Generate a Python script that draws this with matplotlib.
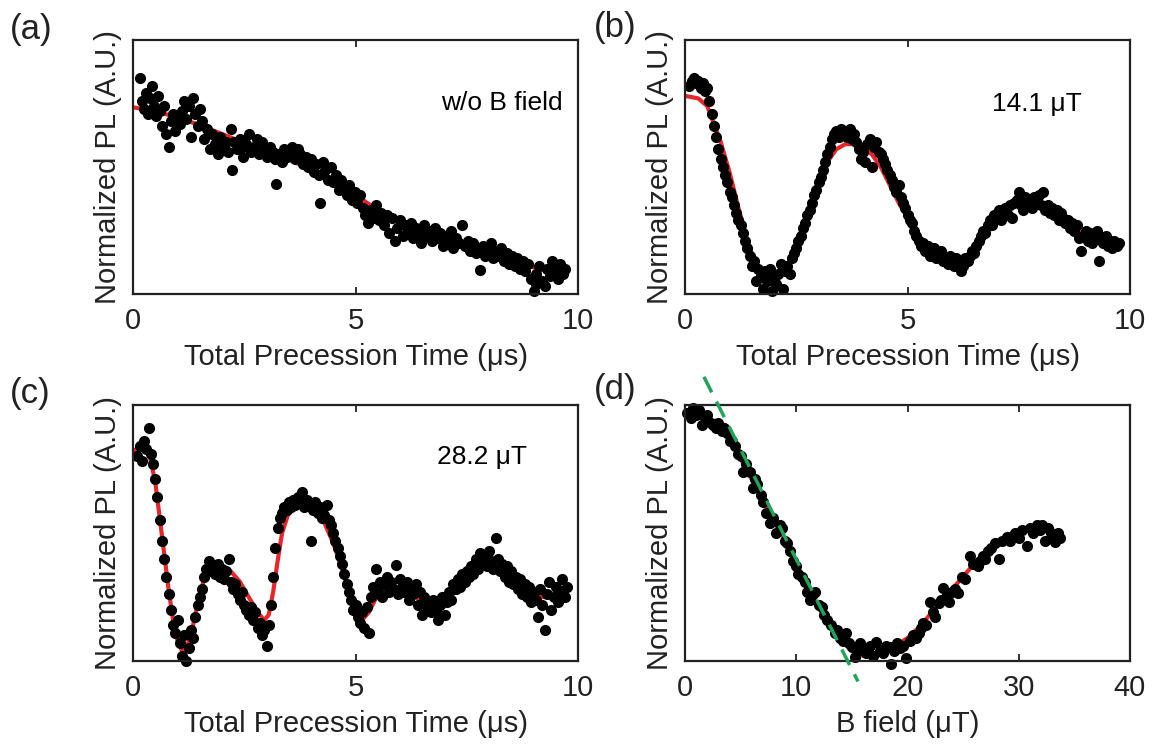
import numpy as np
import matplotlib.pyplot as plt

plt.rcParams['font.family'] = ['Liberation Sans', 'DejaVu Sans']

# (a) no field: precession time (us) and normalized PL
a_t = [0.16, 0.20, 0.25, 0.30, 0.34, 0.38, 0.43, 0.47, 0.52, 0.56,
       0.61, 0.66, 0.70, 0.75, 0.80, 0.85, 0.90, 0.95, 1.00, 1.05,
       1.10, 1.15, 1.20, 1.25, 1.30, 1.35, 1.40, 1.45, 1.50, 1.55,
       1.60, 1.66, 1.72, 1.78, 1.84, 1.90, 1.96, 2.02, 2.08, 2.14,
       2.20, 2.22, 2.28, 2.34, 2.40, 2.46, 2.48, 2.54, 2.60, 2.66,
       2.72, 2.78, 2.84, 2.90, 2.96, 3.02, 3.08, 3.14, 3.20, 3.22,
       3.28, 3.34, 3.40, 3.46, 3.52, 3.58, 3.64, 3.70, 3.76, 3.82,
       3.88, 3.94, 4.00, 4.06, 4.12, 4.18, 4.20, 4.26, 4.32, 4.38,
       4.44, 4.50, 4.56, 4.62, 4.68, 4.74, 4.80, 4.86, 4.92, 4.98,
       5.04, 5.10, 5.16, 5.22, 5.29, 5.34, 5.40, 5.46, 5.52, 5.58,
       5.64, 5.70, 5.76, 5.82, 5.88, 5.94, 6.00, 6.06, 6.12, 6.18,
       6.24, 6.30, 6.36, 6.42, 6.48, 6.54, 6.60, 6.66, 6.72, 6.78,
       6.84, 6.90, 6.96, 7.02, 7.08, 7.14, 7.20, 7.26, 7.32, 7.40,
       7.46, 7.52, 7.58, 7.64, 7.70, 7.76, 7.80, 7.86, 7.92, 7.98,
       8.04, 8.10, 8.16, 8.22, 8.28, 8.34, 8.40, 8.46, 8.52, 8.58,
       8.64, 8.70, 8.76, 8.82, 8.88, 8.94, 9.00, 9.06, 9.12, 9.18,
       9.25, 9.30, 9.36, 9.42, 9.48, 9.54, 9.60, 9.66, 9.70, 9.05]
a_pl = [0.85, 0.76, 0.73, 0.79, 0.71, 0.77, 0.82, 0.74, 0.70, 0.78,
        0.72, 0.66, 0.74, 0.63, 0.58, 0.68, 0.71, 0.64, 0.70, 0.67,
        0.72, 0.76, 0.69, 0.74, 0.62, 0.77, 0.71, 0.66, 0.73, 0.68,
        0.61, 0.65, 0.57, 0.63, 0.59, 0.55, 0.62, 0.58, 0.60, 0.56,
        0.65, 0.49, 0.60, 0.57, 0.61, 0.58, 0.54, 0.59, 0.63, 0.56,
        0.58, 0.61, 0.55, 0.60, 0.57, 0.54, 0.58, 0.56, 0.53, 0.435,
        0.55, 0.52, 0.57, 0.54, 0.56, 0.58, 0.53, 0.57, 0.55, 0.51,
        0.54, 0.50, 0.53, 0.48, 0.51, 0.47, 0.36, 0.52, 0.49, 0.45,
        0.50, 0.44, 0.47, 0.41, 0.45, 0.42, 0.39, 0.43, 0.37, 0.40,
        0.36, 0.39, 0.34, 0.31, 0.28, 0.33, 0.30, 0.35, 0.29, 0.32,
        0.27, 0.31, 0.24, 0.30, 0.21, 0.26, 0.29, 0.23, 0.27, 0.25,
        0.28, 0.22, 0.26, 0.24, 0.20, 0.27, 0.23, 0.25, 0.21, 0.26,
        0.22, 0.24, 0.19, 0.23, 0.21, 0.25, 0.18, 0.22, 0.20, 0.27,
        0.19, 0.21, 0.17, 0.20, 0.16, 0.18, 0.095, 0.19, 0.15, 0.17,
        0.20, 0.14, 0.17, 0.15, 0.18, 0.13, 0.16, 0.12, 0.15, 0.11,
        0.14, 0.10, 0.13, 0.09, 0.12, 0.06, 0.01, 0.08, 0.11, 0.05,
        0.03, 0.10, 0.07, 0.13, 0.09, 0.06, 0.12, 0.08, 0.10, 0.04]
a_fit_t = [0.0, 0.5, 1.0, 1.5, 2.0, 2.5, 3.0, 3.5, 4.0, 4.5, 5.0,
           5.5, 6.0, 6.5, 7.0, 7.5, 8.0, 8.5, 9.0, 9.5, 9.7]
a_fit_pl = [0.735, 0.72, 0.695, 0.665, 0.63, 0.595, 0.565, 0.53, 0.49, 0.44, 0.39,
            0.33, 0.285, 0.255, 0.225, 0.19, 0.165, 0.135, 0.105, 0.08, 0.07]

# sampling times shared by (b) and (c)
t_osc = [0.10, 0.15, 0.20, 0.25, 0.30, 0.35, 0.40, 0.45, 0.50, 0.55,
         0.60, 0.65, 0.70, 0.75, 0.80, 0.85, 0.90, 0.95, 1.00, 1.05,
         1.10, 1.15, 1.20, 1.25, 1.30, 1.35, 1.40, 1.45, 1.50, 1.55,
         1.60, 1.65, 1.70, 1.75, 1.80, 1.85, 1.90, 1.95, 2.00, 2.05,
         2.10, 2.15, 2.20, 2.25, 2.30, 2.35, 2.40, 2.45, 2.50, 2.55,
         2.60, 2.65, 2.70, 2.75, 2.80, 2.85, 2.90, 2.95, 3.00, 3.05,
         3.10, 3.15, 3.20, 3.25, 3.30, 3.35, 3.40, 3.45, 3.50, 3.55,
         3.60, 3.65, 3.70, 3.75, 3.80, 3.85, 3.90, 3.95, 4.00, 4.05,
         4.10, 4.15, 4.20, 4.25, 4.30, 4.35, 4.40, 4.45, 4.50, 4.55,
         4.60, 4.65, 4.70, 4.75, 4.80, 4.85, 4.90, 4.95, 5.00, 5.05,
         5.10, 5.15, 5.20, 5.25, 5.30, 5.35, 5.40, 5.45, 5.50, 5.55,
         5.60, 5.65, 5.70, 5.75, 5.80, 5.85, 5.90, 5.95, 6.00, 6.05,
         6.10, 6.15, 6.20, 6.25, 6.30, 6.35, 6.40, 6.45, 6.50, 6.55,
         6.60, 6.65, 6.70, 6.75, 6.80, 6.85, 6.90, 6.95, 7.00, 7.05,
         7.10, 7.15, 7.20, 7.25, 7.30, 7.35, 7.40, 7.45, 7.50, 7.55,
         7.60, 7.65, 7.70, 7.75, 7.80, 7.85, 7.90, 7.95, 8.00, 8.05,
         8.10, 8.15, 8.20, 8.25, 8.30, 8.35, 8.40, 8.45, 8.50, 8.55,
         8.60, 8.65, 8.70, 8.75, 8.80, 8.85, 8.90, 8.95, 9.00, 9.05,
         9.10, 9.15, 9.20, 9.25, 9.30, 9.35, 9.40, 9.45, 9.50, 9.55,
         9.60, 9.65, 9.70, 9.75]

# (b) 14.1 uT
b_pl = [0.82, 0.84, 0.85, 0.83, 0.84, 0.81, 0.83, 0.80, 0.81, 0.76,
        0.71, 0.66, 0.62, 0.57, 0.53, 0.50, 0.47, 0.44, 0.40, 0.38,
        0.35, 0.32, 0.29, 0.27, 0.24, 0.21, 0.18, 0.15, 0.11, 0.13,
        0.05, 0.10, 0.07, 0.02, 0.09, 0.05, 0.10, 0.01, 0.07, 0.04,
        0.08, 0.12, 0.02, 0.09, 0.11, 0.08, 0.14, 0.16, 0.18, 0.21,
        0.23, 0.26, 0.28, 0.31, 0.33, 0.36, 0.39, 0.41, 0.44, 0.46,
        0.49, 0.52, 0.55, 0.58, 0.61, 0.63, 0.64, 0.62, 0.65, 0.63,
        0.64, 0.62, 0.65, 0.61, 0.63, 0.60, 0.57, 0.53, 0.56, 0.52,
        0.59, 0.61, 0.50, 0.58, 0.60, 0.56, 0.55, 0.53, 0.51, 0.49,
        0.47, 0.45, 0.42, 0.40, 0.43, 0.38, 0.36, 0.34, 0.31, 0.29,
        0.28, 0.25, 0.23, 0.21, 0.19, 0.20, 0.17, 0.19, 0.15, 0.16,
        0.18, 0.14, 0.15, 0.17, 0.13, 0.14, 0.12, 0.15, 0.13, 0.11,
        0.14, 0.12, 0.09, 0.11, 0.14, 0.13, 0.15, 0.17, 0.16, 0.19,
        0.21, 0.23, 0.25, 0.24, 0.27, 0.29, 0.27, 0.31, 0.30, 0.33,
        0.29, 0.32, 0.34, 0.31, 0.35, 0.30, 0.36, 0.37, 0.40, 0.35,
        0.33, 0.38, 0.35, 0.37, 0.34, 0.38, 0.36, 0.39, 0.35, 0.40,
        0.33, 0.35, 0.32, 0.34, 0.31, 0.33, 0.29, 0.32, 0.30, 0.28,
        0.29, 0.26, 0.28, 0.25, 0.27, 0.22, 0.17, 0.23, 0.25, 0.21,
        0.24, 0.20, 0.22, 0.25, 0.13, 0.22, 0.20, 0.23, 0.19, 0.21,
        0.18, 0.21, 0.19, 0.20]
b_fit_t = [0.0, 0.3, 0.5, 0.8, 1.0, 1.2, 1.4, 1.6, 1.8, 2.0, 2.2, 2.4, 2.6, 2.8,
           3.0, 3.2, 3.4, 3.6, 3.8, 4.0, 4.2, 4.4, 4.6, 4.8, 5.0, 5.2, 5.4,
           5.6, 5.8, 6.0, 6.2, 6.4, 6.6, 6.8, 7.0, 7.2, 7.4, 7.6, 7.8, 8.0,
           8.2, 8.4, 8.6, 8.8, 9.0, 9.2, 9.4, 9.7]
b_fit_pl = [0.78, 0.77, 0.74, 0.60, 0.48, 0.34, 0.21, 0.11, 0.06, 0.05, 0.08, 0.15, 0.24, 0.34,
            0.44, 0.52, 0.57, 0.59, 0.59, 0.575, 0.55, 0.50, 0.43, 0.36, 0.30, 0.24, 0.20,
            0.16, 0.14, 0.13, 0.13, 0.15, 0.19, 0.24, 0.29, 0.33, 0.35, 0.37, 0.37, 0.36,
            0.34, 0.31, 0.28, 0.25, 0.23, 0.21, 0.20, 0.19]

# (c) 28.2 uT
c_pl = [0.80, 0.84, 0.78, 0.86, 0.83, 0.91, 0.81, 0.77, 0.71, 0.64,
        0.55, 0.47, 0.40, 0.33, 0.26, 0.20, 0.14, 0.11, 0.16, 0.07,
        0.02, 0.10, 0.00, 0.05, 0.12, 0.09, 0.17, 0.22, 0.25, 0.28,
        0.33, 0.36, 0.39, 0.35, 0.37, 0.34, 0.38, 0.33, 0.36, 0.32,
        0.35, 0.40, 0.31, 0.28, 0.30, 0.26, 0.24, 0.27, 0.22, 0.20,
        0.18, 0.21, 0.16, 0.19, 0.13, 0.15, 0.10, 0.12, 0.06, 0.14,
        0.22, 0.33, 0.44, 0.52, 0.56, 0.58, 0.60, 0.59, 0.62, 0.60,
        0.63, 0.61, 0.64, 0.62, 0.66, 0.60, 0.63, 0.61, 0.47, 0.59,
        0.62, 0.58, 0.60, 0.56, 0.57, 0.61, 0.55, 0.53, 0.50, 0.47,
        0.44, 0.41, 0.38, 0.34, 0.30, 0.27, 0.24, 0.20, 0.22, 0.17,
        0.15, 0.19, 0.13, 0.21, 0.11, 0.25, 0.29, 0.36, 0.27, 0.31,
        0.25, 0.30, 0.33, 0.27, 0.31, 0.28, 0.375, 0.26, 0.32, 0.29,
        0.27, 0.31, 0.24, 0.29, 0.26, 0.30, 0.22, 0.27, 0.18, 0.25,
        0.21, 0.23, 0.19, 0.24, 0.20, 0.16, 0.22, 0.25, 0.18, 0.23,
        0.27, 0.24, 0.30, 0.28, 0.32, 0.29, 0.34, 0.31, 0.35, 0.33,
        0.37, 0.34, 0.40, 0.36, 0.42, 0.38, 0.41, 0.37, 0.43, 0.39,
        0.36, 0.48, 0.40, 0.35, 0.38, 0.33, 0.37, 0.31, 0.35, 0.30,
        0.33, 0.28, 0.32, 0.26, 0.30, 0.25, 0.29, 0.23, 0.27, 0.24,
        0.17, 0.28, 0.22, 0.12, 0.26, 0.31, 0.20, 0.25, 0.29, 0.23,
        0.27, 0.32, 0.25, 0.29]
c_fit_t = [0.0, 0.2, 0.35, 0.5, 0.6, 0.7, 0.8, 0.9, 1.0, 1.1, 1.2, 1.3, 1.4, 1.5,
           1.6, 1.7, 1.85, 2.0, 2.2, 2.4, 2.6, 2.8, 2.95, 3.05, 3.15, 3.25, 3.35,
           3.5, 3.7, 3.9, 4.1, 4.3, 4.5, 4.7, 4.85, 5.0, 5.15, 5.3, 5.5, 5.7,
           5.9, 6.1, 6.3, 6.5, 6.7, 6.9, 7.1, 7.3, 7.5, 7.7, 7.9, 8.1, 8.3,
           8.5, 8.7, 8.9, 9.1, 9.3, 9.5, 9.7]
c_fit_pl = [0.82, 0.84, 0.82, 0.70, 0.56, 0.42, 0.28, 0.16, 0.08, 0.04, 0.05, 0.10, 0.18, 0.26,
            0.32, 0.36, 0.38, 0.37, 0.35, 0.31, 0.25, 0.19, 0.16, 0.18, 0.27, 0.39, 0.50,
            0.58, 0.62, 0.62, 0.59, 0.54, 0.46, 0.36, 0.27, 0.19, 0.16, 0.19, 0.26, 0.29,
            0.29, 0.28, 0.26, 0.23, 0.21, 0.21, 0.24, 0.29, 0.34, 0.37, 0.39, 0.38, 0.36,
            0.33, 0.30, 0.27, 0.25, 0.25, 0.26, 0.27]

# (d) PL vs B field (uT)
d_b = [0.2, 0.5, 0.7, 1.0, 1.3, 1.5, 1.8, 2.0, 2.3, 2.5,
       2.8, 3.0, 3.3, 3.5, 3.75, 4.0, 4.2, 4.5, 4.8, 5.0,
       5.2, 5.5, 5.8, 6.1, 6.3, 6.5, 6.8, 7.0, 7.3, 7.6,
       7.9, 8.2, 8.5, 8.7, 9.0, 9.15, 9.4, 9.7, 10.0, 10.2,
       10.5, 10.8, 11.0, 11.2, 11.5, 11.7, 12.0, 12.3, 12.5, 12.8,
       13.1, 13.5, 13.7, 13.9, 14.2, 14.5, 14.7, 15.0, 15.3, 15.5,
       15.7, 16.0, 16.3, 16.6, 16.9, 17.2, 17.5, 17.8, 18.1, 18.4,
       18.5, 18.8, 19.1, 19.3, 19.6, 19.9, 20.2, 20.5, 20.8, 21.0,
       21.2, 21.4, 21.7, 22.0, 22.3, 22.5, 22.8, 23.0, 23.2, 23.5,
       23.7, 24.0, 24.3, 24.5, 24.9, 25.2, 25.6, 25.9, 26.3, 26.5,
       26.8, 27.0, 27.2, 27.5, 27.9, 28.2, 28.5, 28.9, 29.2, 29.5,
       29.7, 30.0, 30.3, 30.7, 31.0, 31.3, 31.6, 31.9, 32.1, 32.4,
       32.6, 32.9, 33.1, 33.3, 33.5, 33.7]
d_pl = [0.97, 0.95, 0.99, 0.96, 0.98, 0.92, 0.95, 0.96, 0.93, 0.92,
        0.91, 0.93, 0.90, 0.91, 0.89, 0.86, 0.86, 0.84, 0.81, 0.80,
        0.74, 0.77, 0.74, 0.675, 0.71, 0.69, 0.65, 0.62, 0.58, 0.54,
        0.56, 0.50, 0.53, 0.52, 0.47, 0.46, 0.43, 0.39, 0.37, 0.34,
        0.33, 0.31, 0.27, 0.24, 0.26, 0.27, 0.22, 0.21, 0.18, 0.16,
        0.14, 0.11, 0.12, 0.09, 0.08, 0.11, 0.07, 0.055, 0.016, 0.04,
        0.07, 0.05, 0.03, 0.06, 0.02, 0.074, 0.04, 0.03, 0.06, 0.055,
        -0.01, 0.04, 0.07, 0.05, 0.06, 0.01, 0.08, 0.10, 0.09, 0.11,
        0.13, 0.15, 0.14, 0.23, 0.19, 0.17, 0.225, 0.24, 0.285, 0.25,
        0.23, 0.27, 0.28, 0.265, 0.33, 0.32, 0.41, 0.38, 0.37, 0.39,
        0.41, 0.40, 0.43, 0.44, 0.46, 0.40, 0.47, 0.485, 0.47, 0.49,
        0.50, 0.48, 0.51, 0.45, 0.52, 0.50, 0.53, 0.51, 0.53, 0.47,
        0.52, 0.50, 0.49, 0.465, 0.50, 0.48]
d_fit_b = [0, 1, 2, 3, 4, 5, 6, 7, 8, 9, 10, 11, 12, 13, 14, 15, 16, 17,
           18, 19, 20, 21, 22, 23, 24, 25, 26, 27, 28, 29, 30, 31, 32, 33, 33.8]
d_fit_pl = [0.97, 0.965, 0.95, 0.92, 0.87, 0.79, 0.71, 0.63, 0.56, 0.47, 0.38, 0.29,
            0.21, 0.14, 0.08, 0.04, 0.02, 0.02, 0.03, 0.06, 0.09, 0.13, 0.18, 0.23,
            0.28, 0.33, 0.38, 0.42, 0.46, 0.49, 0.51, 0.52, 0.52, 0.51, 0.50]
# slope line, end points
d_tan_b = [1.7, 15.55]
d_tan_pl = [1.11, -0.08]

W, H = 1161, 749
fig = plt.figure(figsize=(W / 100, H / 100), dpi=100)


def panel(left, top, right, bottom, xlim, xticks, xlabel):
    ax = fig.add_axes([left / W, 1 - bottom / H, (right - left) / W, (bottom - top) / H])
    ax.set_xlim(xlim)
    ax.set_ylim(0, 1)
    ax.set_xticks(xticks)
    ax.set_yticks([])
    ax.tick_params(axis='x', direction='in', top=True, length=5, width=1.3,
                   labelsize=21, pad=9, color='#222222', labelcolor='#222222')
    for s in ax.spines.values():
        s.set_linewidth(1.6)
        s.set_color('#222222')
    ax.set_xlabel(xlabel, fontsize=21, color='#222222', labelpad=6)
    ax.set_ylabel('Normalized PL (A.U.)', fontsize=21, color='#222222', labelpad=8)
    return ax


red = '#e8262a'
xl = 'Total Precession Time (μs)'
ms = 7

ax = panel(133, 40, 578, 294, (0, 10), [0, 5, 10], xl)
ax.plot(a_fit_t, a_fit_pl, color=red, lw=3, zorder=1)
ax.plot(a_t, a_pl, 'o', color='k', ms=ms, clip_on=False, zorder=2)
ax.text(0.966, 0.75, 'w/o B field', transform=ax.transAxes, ha='right', va='center', fontsize=19)

ax = panel(685, 40, 1130, 294, (0, 10), [0, 5, 10], xl)
ax.plot(b_fit_t, b_fit_pl, color=red, lw=3, zorder=1)
ax.plot(t_osc, b_pl, 'o', color='k', ms=ms, clip_on=False, zorder=2)
ax.text(0.79, 0.75, '14.1 μT', transform=ax.transAxes, ha='center', va='center', fontsize=19)

ax = panel(133, 405, 578, 661, (0, 10), [0, 5, 10], xl)
ax.plot(c_fit_t, c_fit_pl, color=red, lw=3, zorder=1)
ax.plot(t_osc, c_pl, 'o', color='k', ms=ms, clip_on=False, zorder=2)
ax.text(0.784, 0.797, '28.2 μT', transform=ax.transAxes, ha='center', va='center', fontsize=19)

ax = panel(685, 405, 1130, 661, (0, 40), [0, 10, 20, 30, 40], 'B field (μT)')
ax.plot(d_fit_b, d_fit_pl, color=red, lw=3, zorder=1)
ax.plot(d_b, d_pl, 'o', color='k', ms=ms, clip_on=False, zorder=2)
ax.plot(d_tan_b, d_tan_pl, '--', color='#1fa45a', lw=2.5, dashes=(5, 3), clip_on=False, zorder=3)

for lab, x, y in [('(a)', 10, 30), ('(b)', 594, 28), ('(c)', 10, 393), ('(d)', 594, 390)]:
    fig.text(x / W, 1 - y / H, lab, fontsize=25, ha='left', va='center', color='#222222')

fig.savefig('out.png', dpi=100)
